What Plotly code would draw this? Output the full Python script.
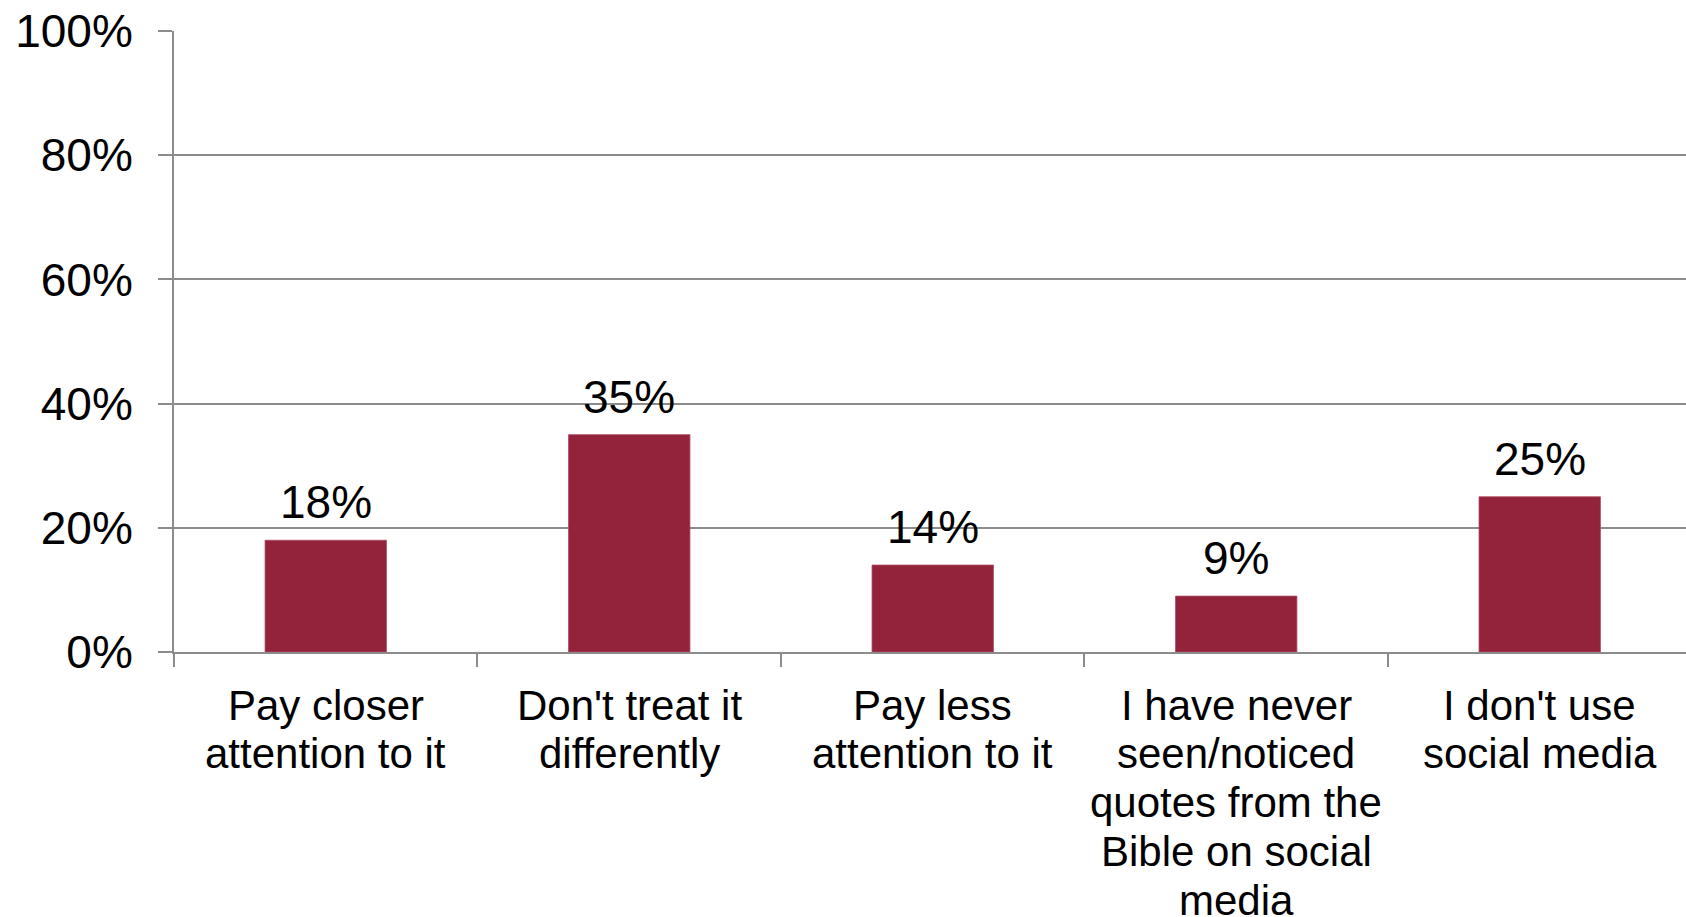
import plotly.graph_objects as go

# Survey responses: how people treat Bible quotes seen on social media
categories = [
    "Pay closer<br>attention to it",
    "Don't treat it<br>differently",
    "Pay less<br>attention to it",
    "I have never<br>seen/noticed<br>quotes from the<br>Bible on social<br>media",
    "I don't use<br>social media",
]
values = [18, 35, 14, 9, 25]
y_ticks = [0, 20, 40, 60, 80, 100]
y_tick_labels = ["0%", "20%", "40%", "60%", "80%", "100%"]

BAR_COLOR = "#92233A"
GRID_COLOR = "#8C8C8C"
FONT = "Liberation Sans, Arial, sans-serif"
LINE_HEIGHT = 48.8   # px between wrapped category label lines
FIRST_LINE = 53      # px from the baseline to the first label line
VALUE_OFFSET = 38    # px from bar top to the value label centre

fig = go.Figure(
    go.Bar(
        x=categories,
        y=values,
        width=0.4,
        marker=dict(color=BAR_COLOR, line=dict(color="#B04A62", width=0.8)),
        hoverinfo="x+y",
    )
)

annotations = []
# Value labels above each bar
for cat, v in zip(categories, values):
    annotations.append(
        dict(
            x=cat, y=v, xref="x", yref="y",
            text=f"{v}%", showarrow=False,
            xanchor="center", yanchor="middle",
            yshift=VALUE_OFFSET,
            font=dict(family=FONT, size=46, color="black"),
        )
    )

# Category labels, one annotation per wrapped line for tight line spacing
for cat in categories:
    for j, line in enumerate(cat.split("<br>")):
        annotations.append(
            dict(
                x=cat, y=0, xref="x", yref="y",
                text=line, showarrow=False,
                xanchor="center", yanchor="middle",
                yshift=-(FIRST_LINE + j * LINE_HEIGHT),
                font=dict(family=FONT, size=42, color="black"),
            )
        )

fig.update_layout(
    width=1686,
    height=917,
    margin=dict(l=174, r=0, t=31, b=265),
    paper_bgcolor="white",
    plot_bgcolor="white",
    showlegend=False,
    font=dict(family=FONT, color="black"),
    annotations=annotations,
    xaxis=dict(
        type="category",
        range=[-0.5, 4.482],
        showticklabels=False,
        tickson="boundaries",
        ticks="outside",
        ticklen=13,
        tickwidth=2,
        tickcolor=GRID_COLOR,
        showgrid=False,
        showline=True,
        linecolor=GRID_COLOR,
        linewidth=2,
        zeroline=False,
    ),
    yaxis=dict(
        range=[0, 100],
        tickmode="array",
        tickvals=y_ticks,
        ticktext=y_tick_labels,
        ticks="outside",
        ticklen=14,
        tickwidth=2,
        tickcolor=GRID_COLOR,
        ticklabelstandoff=16,
        tickfont=dict(family=FONT, size=46, color="black"),
        showgrid=True,
        gridcolor=GRID_COLOR,
        gridwidth=2,
        showline=True,
        linecolor=GRID_COLOR,
        linewidth=2,
        zeroline=False,
    ),
)

fig.write_html("out.html")
